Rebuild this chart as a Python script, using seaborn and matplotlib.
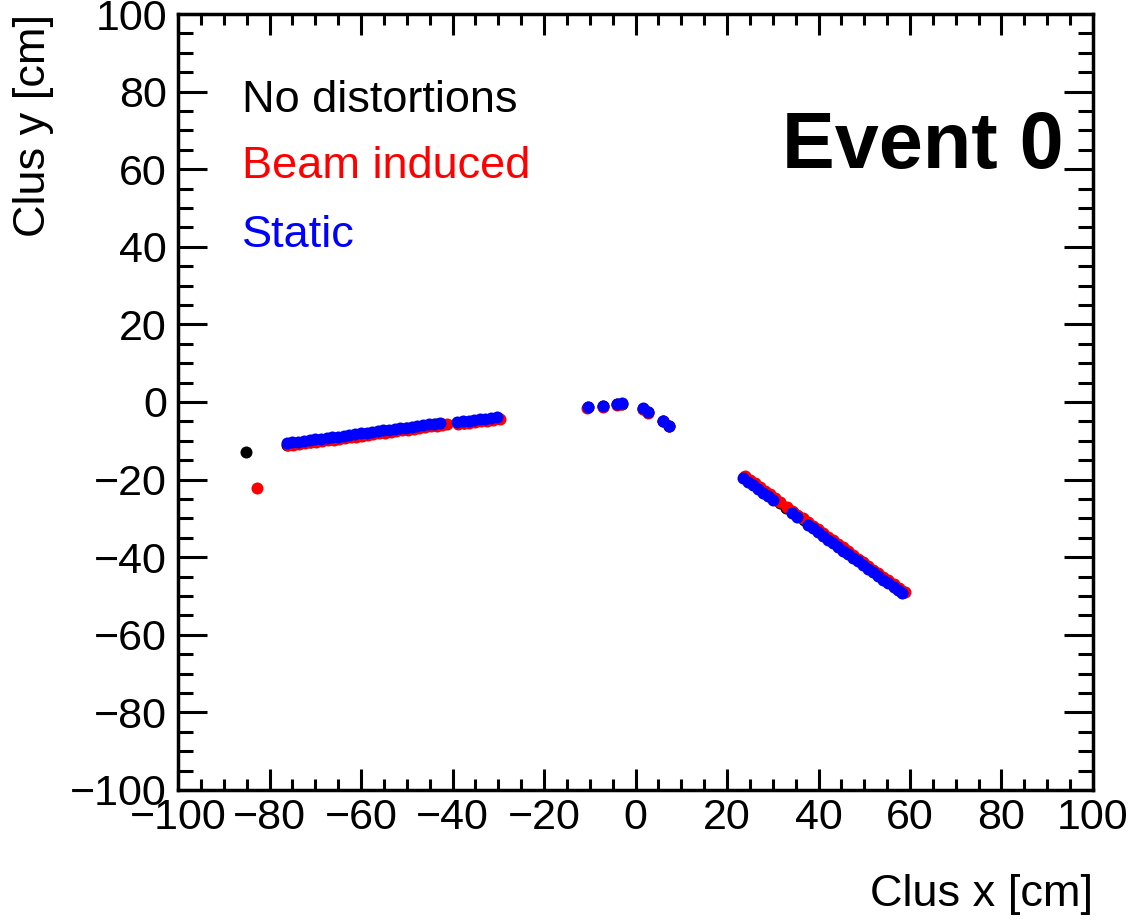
import numpy as np
import pandas as pd
import matplotlib
matplotlib.use("Agg")
import matplotlib.pyplot as plt
from matplotlib.ticker import MultipleLocator
import seaborn as sns

# cluster positions (cm)
nodist_x = [-85.1,
            -76.1, -74.9, -73.6, -72.4, -71.1, -69.9, -68.6, -67.4, -66.1, -64.9, -63.6, -62.4, -61.1, -59.9,
            -58.6, -57.4, -56.1, -54.9, -53.6, -52.4, -51.1, -49.9, -48.6, -47.4, -46.1, -44.9, -43.6, -42.4,
            -38.9, -37.6, -36.4, -35.1, -33.9, -32.6, -31.4, -30.0,
            -10.4, -7.1, -4.0, -3.0, 1.7, 2.8, 6.1, 7.4,
            23.7, 24.8, 25.9, 27.0, 28.1, 29.2, 30.3, 31.6, 33.0, 34.4, 35.6, 36.8, 37.9, 39.0, 40.1, 41.2,
            42.3, 43.4, 44.5, 45.6, 46.7, 47.8, 48.9, 50.0, 51.1, 52.2, 53.3, 54.4, 55.5, 56.6, 57.7, 58.6]
nodist_y = [-12.9,
            -11.0, -10.8, -10.6, -10.4, -10.2, -10.0, -9.8, -9.6, -9.4, -9.2, -9.0, -8.8, -8.6, -8.4,
            -8.2, -8.0, -7.8, -7.6, -7.4, -7.2, -7.0, -6.8, -6.6, -6.4, -6.2, -6.0, -5.8, -5.7,
            -5.5, -5.3, -5.1, -4.9, -4.7, -4.6, -4.4, -4.2,
            -1.4, -1.1, -0.6, -0.4, -1.7, -2.7, -5.0, -6.3,
            -19.3, -20.2, -21.2, -22.1, -23.1, -24.0, -24.9, -26.1, -27.3, -28.4, -29.5, -30.5, -31.4, -32.4, -33.3, -34.3,
            -35.2, -36.1, -37.1, -38.0, -39.0, -39.9, -40.8, -41.8, -42.7, -43.7, -44.6, -45.5, -46.5, -47.4, -48.4, -49.1]

beam_x = [-82.7,
          -76.0, -74.8, -73.5, -72.3, -71.0, -69.8, -68.5, -67.3, -66.0, -64.8, -63.5, -62.3, -61.0, -59.8, -58.5,
          -57.3, -56.0, -54.8, -53.5, -52.3, -51.0, -49.8, -48.5, -47.3, -46.0, -44.8, -43.5, -42.3, -41.2,
          -38.8, -37.5, -36.3, -35.0, -33.8, -32.5, -31.2, -29.6,
          -10.5, -7.2, -4.1, -3.1, 1.6, 2.7, 6.0, 7.3,
          23.9, 25.0, 26.1, 27.2, 28.3, 29.4, 30.5, 31.6, 33.1, 34.3, 35.4, 36.6, 37.7, 38.8, 39.9, 41.0,
          42.1, 43.2, 44.3, 45.4, 46.5, 47.6, 48.7, 49.8, 50.9, 52.0, 53.1, 54.2, 55.3, 56.4, 57.6, 58.9]
beam_y = [-22.2,
          -11.2, -11.0, -10.8, -10.6, -10.4, -10.2, -10.0, -9.9, -9.7, -9.5, -9.3, -9.1, -8.9, -8.7, -8.5,
          -8.3, -8.1, -7.9, -7.7, -7.5, -7.3, -7.1, -6.9, -6.7, -6.5, -6.3, -6.1, -5.9, -5.8,
          -5.7, -5.5, -5.3, -5.1, -4.9, -4.8, -4.6, -4.4,
          -1.5, -1.2, -0.7, -0.5, -1.7, -2.8, -5.0, -6.3,
          -19.1, -20.0, -21.0, -21.9, -22.9, -23.8, -24.8, -25.7, -27.1, -28.0, -29.0, -30.0, -30.9, -31.9, -32.8, -33.8,
          -34.7, -35.6, -36.6, -37.5, -38.5, -39.4, -40.4, -41.3, -42.2, -43.2, -44.1, -45.1, -46.0, -46.9, -48.0, -49.1]

static_x = [-76.2, -75.0, -73.7, -72.5, -71.2, -70.0, -68.8, -67.5, -66.3, -65.0, -63.8, -62.6, -61.3, -60.1,
            -58.8, -57.6, -56.4, -55.1, -53.9, -52.6, -51.4, -50.2, -48.9, -47.7, -46.4, -45.2, -44.0, -42.7,
            -39.0, -37.8, -36.5, -35.3, -34.0, -32.8, -31.5, -30.3,
            -10.4, -7.1, -4.0, -3.0, 1.7, 2.8, 6.1, 7.4,
            23.5, 24.6, 25.7, 26.8, 27.9, 29.0, 30.1, 34.2, 35.3,
            37.7, 38.8, 39.9, 41.0, 42.1, 43.2, 44.3, 45.4, 46.5, 47.6, 48.7, 49.8, 50.9, 52.0, 53.1,
            54.2, 55.3, 56.4, 57.3, 58.2]
static_y = [-10.6, -10.4, -10.2, -10.0, -9.8, -9.6, -9.5, -9.3, -9.1, -8.9, -8.7, -8.5, -8.3, -8.1,
            -7.9, -7.7, -7.5, -7.3, -7.1, -6.9, -6.8, -6.6, -6.4, -6.2, -6.0, -5.8, -5.6, -5.4,
            -5.2, -5.0, -4.8, -4.6, -4.4, -4.3, -4.1, -3.9,
            -1.3, -1.0, -0.5, -0.3, -1.6, -2.5, -4.8, -6.1,
            -19.6, -20.5, -21.5, -22.4, -23.4, -24.3, -25.2, -28.7, -29.7,
            -31.7, -32.6, -33.6, -34.5, -35.5, -36.4, -37.3, -38.3, -39.2, -40.2, -41.1, -42.0, -43.0, -43.9, -44.8,
            -45.8, -46.7, -47.7, -48.4, -49.2]

labels = ["No distortions", "Beam induced", "Static"]
colors = ["#000000", "#ff0000", "#0000ff"]

sns.set_style("ticks")
plt.rcParams['font.family'] = ['Liberation Sans', 'DejaVu Sans']
plt.rcParams['axes.unicode_minus'] = True
for k in ['text.color', 'axes.labelcolor', 'xtick.color', 'ytick.color', 'axes.edgecolor']:
    plt.rcParams[k] = 'black'

fig = plt.figure(figsize=(11.29, 9.22), dpi=100)
ax = fig.add_axes([0.1577, 0.1432, 0.8104, 0.8416])

for xs, ys, c in zip([nodist_x, beam_x, static_x], [nodist_y, beam_y, static_y], colors):
    df = pd.DataFrame({"x": xs, "y": ys})
    sns.scatterplot(data=df, x="x", y="y", color=c, s=75, linewidth=0, ax=ax, legend=False)

ax.set_xlim(-100, 100)
ax.set_ylim(-100, 100)
ax.xaxis.set_major_locator(MultipleLocator(20))
ax.xaxis.set_minor_locator(MultipleLocator(5))
ax.yaxis.set_major_locator(MultipleLocator(20))
ax.yaxis.set_minor_locator(MultipleLocator(5))

for s in ax.spines.values():
    s.set_linewidth(2.5)
    s.set_color("black")
ax.tick_params(axis="x", which="major", direction="in", length=15, width=2.2, top=True,
               labelsize=31, pad=6)
ax.tick_params(axis="x", which="minor", direction="in", length=8, width=2.2, top=True)
ax.tick_params(axis="y", which="major", direction="in", length=21, width=2.2, right=True,
               labelsize=31, pad=8)
ax.tick_params(axis="y", which="minor", direction="in", length=11, width=2.2, right=True)

ax.set_xlabel("Clus x [cm]", fontsize=32.5, loc="right", labelpad=26)
ax.set_ylabel("Clus y [cm]", fontsize=32.5, loc="top", labelpad=12)

ys_txt = [0.889, 0.803, 0.714]
for lab, c, yt in zip(labels, colors, ys_txt):
    ax.text(0.07, yt, lab, color=c, fontsize=32.5, transform=ax.transAxes, va="center", ha="left")

ax.text(0.968, 0.828, "Event 0", fontsize=57, fontweight="bold", transform=ax.transAxes,
        va="center", ha="right")

fig.savefig("out.png", dpi=100)
